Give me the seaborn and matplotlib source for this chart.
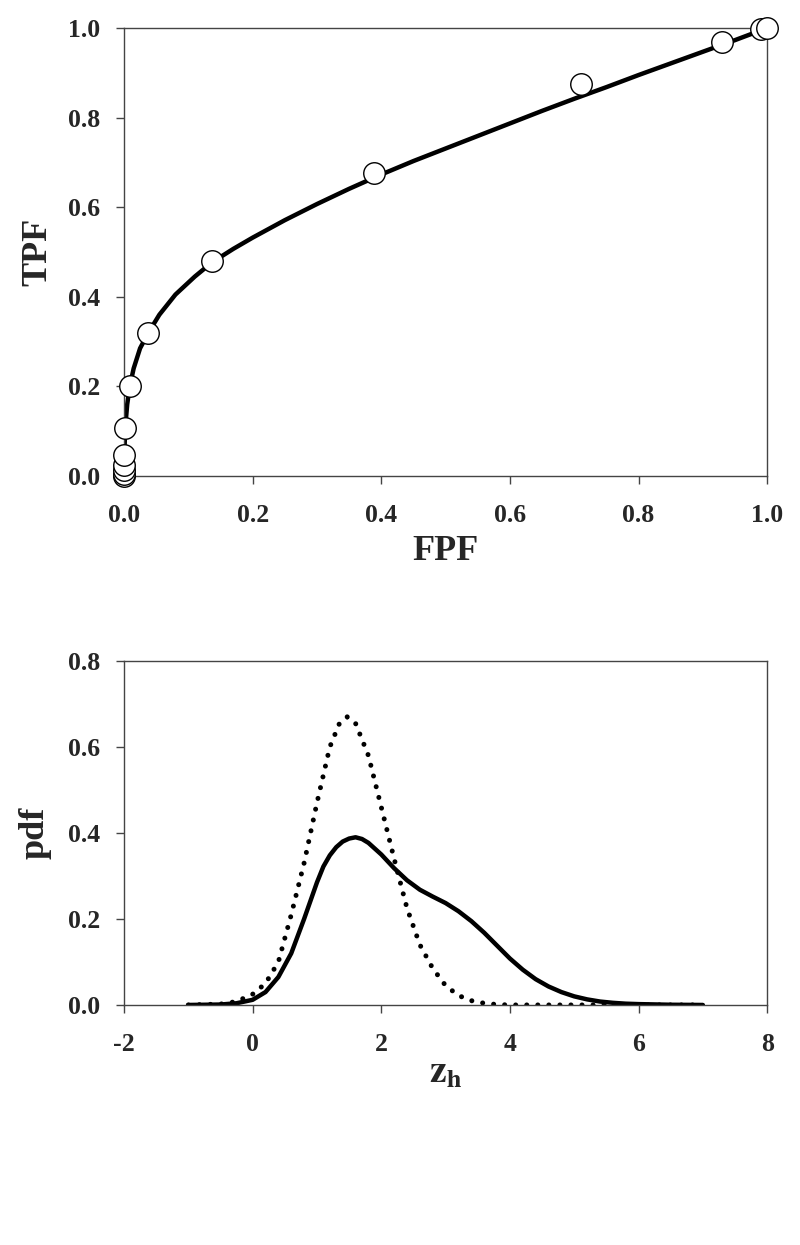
import matplotlib
matplotlib.use("Agg")
import matplotlib.pyplot as plt
import seaborn as sns

sns.set_style("ticks")
plt.rcParams['font.family'] = ['Liberation Serif', 'DejaVu Serif']
plt.rcParams['font.weight'] = 'bold'
plt.rcParams['mathtext.fontset'] = 'stix'
plt.rcParams['axes.unicode_minus'] = False

# ROC operating points
roc_fpf = [0.0, 0.0, 0.0, 0.0, 0.0, 0.001, 0.009, 0.037, 0.137, 0.389, 0.711, 0.93, 0.99, 1.0]
roc_tpf = [0.0, 0.005, 0.013, 0.025, 0.047, 0.107, 0.2, 0.32, 0.48, 0.676, 0.875, 0.969, 0.997, 1.0]

# fitted ROC curve
fit_fpf = [0.0, 0.0005, 0.002, 0.005, 0.009, 0.015, 0.025, 0.038, 0.055, 0.08, 0.11, 0.137,
           0.17, 0.2, 0.25, 0.3, 0.35, 0.4, 0.45, 0.5, 0.55, 0.6, 0.65, 0.7, 0.75, 0.8,
           0.85, 0.9, 0.95, 1.0]
fit_tpf = [0.0, 0.05, 0.11, 0.16, 0.2, 0.24, 0.285, 0.32, 0.36, 0.405, 0.445, 0.477,
           0.507, 0.532, 0.571, 0.607, 0.641, 0.673, 0.703, 0.731, 0.759, 0.787, 0.815,
           0.842, 0.868, 0.895, 0.921, 0.947, 0.973, 1.0]

# pdf curves (solid and dotted)
z_solid = [-1.0, -0.5, -0.25, 0.0, 0.2, 0.4, 0.6, 0.8, 1.0, 1.1, 1.2, 1.3, 1.4, 1.5, 1.6,
           1.7, 1.8, 2.0, 2.2, 2.4, 2.6, 2.8, 3.0, 3.2, 3.4, 3.6, 3.8, 4.0, 4.2, 4.4, 4.6,
           4.8, 5.0, 5.2, 5.4, 5.6, 5.8, 6.0, 6.5, 7.0]
pdf_solid = [0.0, 0.001, 0.004, 0.012, 0.03, 0.065, 0.12, 0.2, 0.285, 0.322, 0.348, 0.367,
             0.38, 0.387, 0.39, 0.386, 0.377, 0.35, 0.318, 0.29, 0.268, 0.252, 0.237,
             0.218, 0.195, 0.168, 0.138, 0.108, 0.082, 0.06, 0.043, 0.03, 0.02, 0.013,
             0.008, 0.005, 0.003, 0.002, 0.0005, 0.0]
z_dot = [-1.0, -0.5, -0.25, 0.0, 0.2, 0.4, 0.6, 0.8, 1.0, 1.2, 1.35, 1.47, 1.6, 1.8, 2.0,
         2.2, 2.4, 2.6, 2.8, 3.0, 3.2, 3.4, 3.6, 3.8, 4.0, 5.0, 6.0, 7.0]
pdf_dot = [0.0, 0.002, 0.008, 0.025, 0.05, 0.1, 0.21, 0.33, 0.47, 0.6, 0.655, 0.67, 0.655,
           0.58, 0.46, 0.34, 0.225, 0.14, 0.085, 0.045, 0.022, 0.01, 0.004, 0.001, 0.0,
           0.0, 0.0, 0.0]

fig = plt.figure(figsize=(8, 12.45), dpi=100)
ax1 = fig.add_axes([0.155, 0.6177, 0.804, 0.3598])
ax2 = fig.add_axes([0.155, 0.1928, 0.804, 0.2763])

sns.lineplot(x=fit_fpf, y=fit_tpf, ax=ax1, color='black', linewidth=3.2, sort=False,
             estimator=None)
sns.scatterplot(x=roc_fpf, y=roc_tpf, ax=ax1, s=240, facecolor='white', edgecolor='black',
                linewidth=1.0, zorder=5, clip_on=False)
ax1.set_xlim(0, 1)
ax1.set_ylim(0, 1)
ax1.set_xticks([0, 0.2, 0.4, 0.6, 0.8, 1.0])
ax1.set_yticks([0, 0.2, 0.4, 0.6, 0.8, 1.0])
ax1.set_xticklabels(['0.0', '0.2', '0.4', '0.6', '0.8', '1.0'])
ax1.set_yticklabels(['0.0', '0.2', '0.4', '0.6', '0.8', '1.0'])
ax1.set_xlabel('FPF', fontsize=26, fontweight='bold', labelpad=6)
ax1.set_ylabel('TPF', fontsize=26, fontweight='bold', labelpad=10)

sns.lineplot(x=z_solid, y=pdf_solid, ax=ax2, color='black', linewidth=3.2, sort=False,
             estimator=None)
sns.lineplot(x=z_dot, y=pdf_dot, ax=ax2, color='black', linewidth=3.6, sort=False,
             estimator=None, linestyle=(0, (0.01, 2.2)), dash_capstyle='round')
ax2.set_xlim(-2, 8)
ax2.set_ylim(0, 0.8)
ax2.set_xticks([-2, 0, 2, 4, 6, 8])
ax2.set_yticks([0, 0.2, 0.4, 0.6, 0.8])
ax2.set_yticklabels(['0.0', '0.2', '0.4', '0.6', '0.8'])
ax2.set_xlabel(r'$\mathbf{z}_{\mathbf{h}}$', fontsize=27, labelpad=0)
ax2.set_ylabel('pdf', fontsize=26, fontweight='bold', labelpad=12)

for ax in (ax1, ax2):
    for sp in ax.spines.values():
        sp.set_color('#444444')
        sp.set_linewidth(1.0)
    ax.tick_params(axis='both', direction='out', length=6, width=1.0, color='#444444',
                   labelsize=18.5)
    ax.tick_params(axis='x', pad=14)
    ax.tick_params(axis='y', pad=11)
    for lab in ax.get_xticklabels() + ax.get_yticklabels():
        lab.set_fontweight('bold')

plt.savefig('out.png', dpi=100)
